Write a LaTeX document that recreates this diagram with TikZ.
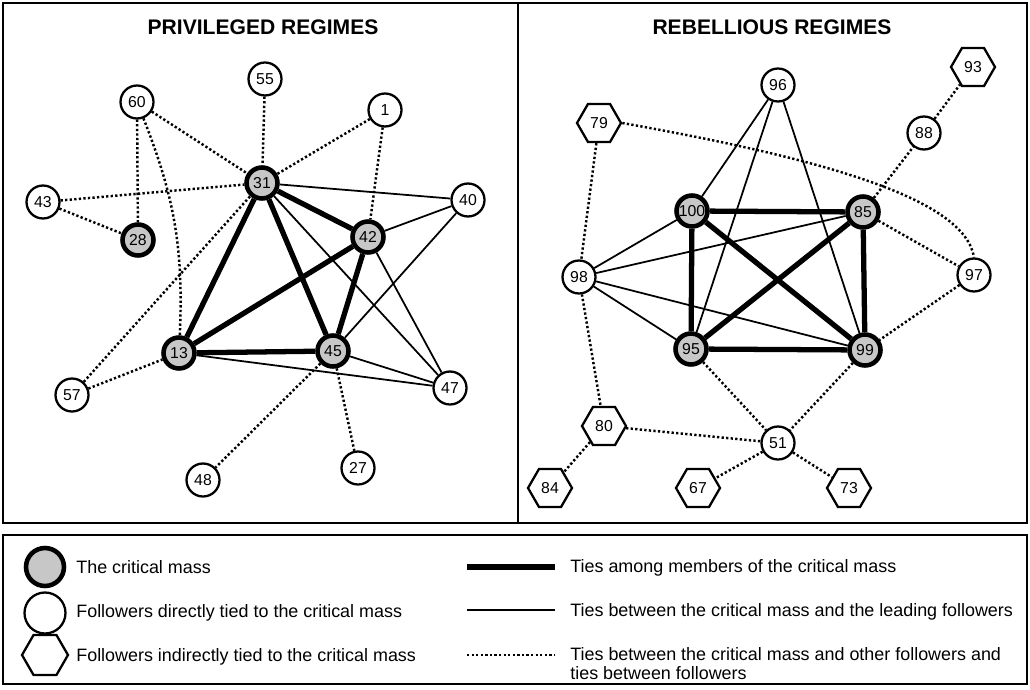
\documentclass[tikz,border=0pt]{standalone}
\usepackage{fontspec}
\setmainfont{Liberation Sans}
\usetikzlibrary{shapes.geometric}
\begin{document}
\begin{tikzpicture}[x=0.02cm,y=-0.02cm,
        num/.style={font=\fontsize{9}{10}\selectfont},
        crit/.style={circle,draw,line width=2.6pt,fill=black!22,minimum size=0.62cm,inner sep=0pt,num},
        foll/.style={circle,draw,line width=1.3pt,fill=white,minimum size=0.66cm,inner sep=0pt,num},
        hexa/.style={regular polygon,regular polygon sides=6,draw,line width=1.3pt,fill=white,minimum size=0.88cm,inner sep=0pt,num},
        tiecm/.style={line width=3pt},
        tielead/.style={line width=1pt},
        tieoth/.style={line width=1.4pt,dash pattern=on 1.3pt off 1.3pt},
        ttl/.style={font=\fontsize{12}{14}\selectfont\bfseries},
        legtxt/.style={anchor=west,font=\fontsize{10.2}{10.8}\selectfont,inner sep=0pt,align=left}]
        \useasboundingbox (0,0) rectangle (1030,689);
        % frames
        \draw[line width=1.2pt] (3,3) rectangle (518,523);
        \draw[line width=1.2pt] (518,3) rectangle (1027,523);
        \draw[line width=1.2pt] (3,535) rectangle (1027,684);
        \node[ttl] (tpriv) at (263,27) {PRIVILEGED REGIMES};
        \node[ttl] (trebel) at (772,27) {REBELLIOUS REGIMES};
        
        % privileged regimes
        \node[foll] (p55) at (265,79) {55};
        \node[foll] (p60) at (137,102) {60};
        \node[foll] (p1) at (385,110) {1};
        \node[crit] (p31) at (262,183) {31};
        \node[foll] (p43) at (43,202) {43};
        \node[foll] (p40) at (468,200) {40};
        \node[crit] (p28) at (138,240) {28};
        \node[crit] (p42) at (368,237) {42};
        \node[crit] (p13) at (179,353) {13};
        \node[crit] (p45) at (333,351) {45};
        \node[foll] (p57) at (72,395) {57};
        \node[foll] (p47) at (450,388) {47};
        \node[foll] (p48) at (203,480) {48};
        \node[foll] (p27) at (358,468) {27};
        
        \draw[tiecm] (p31) -- (p13);
        \draw[tiecm] (p31) -- (p45);
        \draw[tiecm] (p31) -- (p42);
        \draw[tiecm] (p42) -- (p13);
        \draw[tiecm] (p42) -- (p45);
        \draw[tiecm] (p13) -- (p45);
        
        \draw[tielead] (p31) -- (p40);
        \draw[tielead] (p31) -- (p47);
        \draw[tielead] (p42) -- (p40);
        \draw[tielead] (p42) -- (p47);
        \draw[tielead] (p45) -- (p40);
        \draw[tielead] (p45) -- (p47);
        \draw[tielead] (p13) -- (p47);
        
        \draw[tieoth] (p60) -- (p31);
        \draw[tieoth] (p55) -- (p31);
        \draw[tieoth] (p1) -- (p31);
        \draw[tieoth] (p43) -- (p31);
        \draw[tieoth] (p43) -- (p28);
        \draw[tieoth] (p60) -- (p28);
        \draw[tieoth] (p60) to[bend left=12] (p13);
        \draw[tieoth] (p1) -- (p42);
        \draw[tieoth] (p57) -- (p31);
        \draw[tieoth] (p57) -- (p13);
        \draw[tieoth] (p45) -- (p48);
        \draw[tieoth] (p45) -- (p27);
        
        % rebellious regimes
        \node[foll] (r96) at (778,85) {96};
        \node[hexa] (r93) at (973,67) {93};
        \node[hexa] (r79) at (599,123) {79};
        \node[foll] (r88) at (924,133) {88};
        \node[crit] (r100) at (692,211) {100};
        \node[crit] (r85) at (863,212) {85};
        \node[foll] (r98) at (579,277) {98};
        \node[foll] (r97) at (974,275) {97};
        \node[crit] (r95) at (691,349) {95};
        \node[crit] (r99) at (865,350) {99};
        \node[hexa] (r80) at (604,426) {80};
        \node[foll] (r51) at (778,443) {51};
        \node[hexa] (r84) at (550,488) {84};
        \node[hexa] (r67) at (698,488) {67};
        \node[hexa] (r73) at (849,488) {73};
        
        \draw[tiecm] (r100) -- (r85);
        \draw[tiecm] (r100) -- (r95);
        \draw[tiecm] (r100) -- (r99);
        \draw[tiecm] (r85) -- (r95);
        \draw[tiecm] (r85) -- (r99);
        \draw[tiecm] (r95) -- (r99);
        
        \draw[tielead] (r96) -- (r100);
        \draw[tielead] (r96) -- (r95);
        \draw[tielead] (r96) -- (r99);
        \draw[tielead] (r98) -- (r100);
        \draw[tielead] (r98) -- (r85);
        \draw[tielead] (r98) -- (r95);
        \draw[tielead] (r98) -- (r99);
        
        \draw[tieoth] (r79) -- (r98);
        \draw[tieoth] (r79.east) .. controls (830,160) and (965,200) .. (r97.north);
        \draw[tieoth] (r85) -- (r88);
        \draw[tieoth] (r88) -- (r93);
        \draw[tieoth] (r85) -- (r97);
        \draw[tieoth] (r97) -- (r99);
        \draw[tieoth] (r98) -- (r80);
        \draw[tieoth] (r80) -- (r51);
        \draw[tieoth] (r80) -- (r84);
        \draw[tieoth] (r95) -- (r51);
        \draw[tieoth] (r99) -- (r51);
        \draw[tieoth] (r51) -- (r67);
        \draw[tieoth] (r51) -- (r73);
        
        % legend
        \node[crit,minimum size=0.76cm] (kcrit) at (45,567) {};
        \node[foll,minimum size=0.82cm] (kfoll) at (45,613) {};
        \node[hexa,minimum size=0.92cm] (khexa) at (45,655) {};
        \node[legtxt] (tcrit) at (76,567) {The critical mass};
        \node[legtxt] (tfoll) at (76,613) {Followers directly tied to the critical mass};
        \node[legtxt] (thexa) at (76,657) {Followers indirectly tied to the critical mass};
        
        \draw[tiecm] (467,567) -- (555,567);
        \draw[tielead] (467,610) -- (555,610);
        \draw[tieoth] (467,655) -- (555,655);
        \node[legtxt] (tcm) at (570,568) {Ties among members of the critical mass};
        \node[legtxt] (tlead) at (570,612) {Ties between the critical mass and the leading followers};
        \node[legtxt] (toth) at (570,664) {Ties between the critical mass and other followers and\\ties between followers};
\end{tikzpicture}
\end{document}
